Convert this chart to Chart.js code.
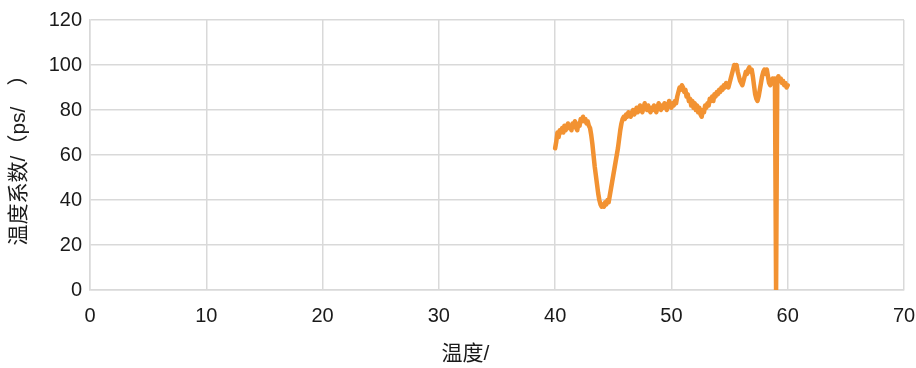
<!DOCTYPE html>
<html>
<head>
<meta charset="utf-8">
<script src="https://cdn.jsdelivr.net/npm/chart.js@4/dist/chart.umd.min.js"></script>
<style>
  html, body { margin: 0; padding: 0; background: #ffffff; }
  #wrap { width: 916px; height: 368px; }
</style>
</head>
<body>
<div id="wrap"><canvas id="c" width="916" height="368"></canvas></div>
<script>
// Temperature readings (°C), sampled every 0.1 from 40.0 to 60.0
const temperatures = [];
for (let i = 0; i <= 200; i++) temperatures.push(+(40 + i * 0.1).toFixed(1));

// Temperature coefficient (ps/°C) at each reading
const coefficients = [
  63, 66, 70, 68, 71, 70, 72, 70, 73, 71,   // 40.0 - 40.9
  72, 74, 72, 73, 71, 74, 73, 75, 72, 71,   // 41.0 - 41.9
  74, 73, 76, 75, 77, 75, 76, 74, 75, 73,   // 42.0 - 42.9
  72, 69, 65, 60, 55, 51, 47, 43, 40, 38,   // 43.0 - 43.9
  37, 38, 37, 39, 38, 40, 39, 42, 45, 48,   // 44.0 - 44.9
  51, 54, 57, 60, 63, 67, 71, 74, 76, 77,   // 45.0 - 45.9
  76, 78, 77, 79, 78, 77, 79, 80, 78, 79,   // 46.0 - 46.9
  81, 79, 80, 82, 80, 79, 81, 83, 81, 80,   // 47.0 - 47.9
  82, 80, 79, 81, 80, 82, 81, 79, 81, 83,   // 48.0 - 48.9
  82, 80, 82, 81, 83, 82, 80, 82, 84, 82,   // 49.0 - 49.9
  81, 83, 82, 84, 83, 86, 88, 90, 89, 91,   // 50.0 - 50.9
  90, 88, 89, 86, 87, 84, 85, 82, 84, 81,   // 51.0 - 51.9
  83, 80, 82, 79, 81, 78, 77, 80, 79, 82,   // 52.0 - 52.9
  81, 83, 82, 85, 84, 86, 84, 87, 86, 88,   // 53.0 - 53.9
  87, 89, 88, 90, 89, 91, 90, 92, 91, 90,   // 54.0 - 54.9
  92, 94, 96, 98, 100, 99, 100, 97, 95, 93, // 55.0 - 55.9
  92, 91, 93, 95, 97, 96, 98, 99, 97, 98,   // 56.0 - 56.9
  95, 91, 87, 85, 84, 86, 89, 92, 95, 97,   // 57.0 - 57.9
  98, 96, 98, 95, 92, 91, 92, 94, 93, 94,   // 58.0 - 58.9
  0, 94, 95, 93, 94, 92, 93, 91, 92, 90,    // 59.0 - 59.9
  91                                        // 60.0
];

const xTicks = [0, 10, 20, 30, 40, 50, 60, 70];
const yTicks = [0, 20, 40, 60, 80, 100, 120];

const xTitle = '温度/\u3000\u3000\u3000';
const yTitle = '温度系数/（ps/\u3000）';

const points = temperatures.map((t, i) => ({ x: t, y: coefficients[i] }));

const fontFamily = 'Arial, "Liberation Sans", "Noto Sans CJK SC", sans-serif';
const gridColor = '#d9d9d9';
const textColor = '#1a1a1a';

new Chart(document.getElementById('c'), {
  type: 'line',
  data: {
    datasets: [{
      data: points,
      borderColor: '#f29232',
      borderWidth: 4.5,
      borderJoinStyle: 'round',
      borderCapStyle: 'round',
      pointRadius: 0,
      tension: 0,
      fill: false
    }]
  },
  options: {
    responsive: false,
    animation: false,
    layout: { padding: { top: 20, right: 0, left: 0, bottom: 0 } },
    plugins: { legend: { display: false }, tooltip: { enabled: false } },
    scales: {
      x: {
        type: 'linear',
        min: 0, max: 70,
        afterBuildTicks: s => { s.ticks = xTicks.map(v => ({ value: v })); },
        afterFit: s => { s.height = 78; s.paddingLeft = 0; s.paddingRight = 12; },
        grid: { color: gridColor, lineWidth: 1.5, drawTicks: false },
        border: { color: gridColor, width: 1.5 },
        ticks: { color: textColor, padding: 14, maxRotation: 0, font: { family: fontFamily, size: 20 } },
        title: {
          display: true, text: xTitle, color: textColor,
          padding: { top: 0, bottom: 1 },
          font: { family: fontFamily, size: 21 }
        }
      },
      y: {
        min: 0, max: 120,
        afterBuildTicks: s => { s.ticks = yTicks.map(v => ({ value: v })); },
        afterFit: s => { s.width = 90; },
        grid: { color: gridColor, lineWidth: 1.5, drawTicks: false },
        border: { color: gridColor, width: 1.5 },
        ticks: { color: textColor, padding: 8, font: { family: fontFamily, size: 20 } },
        title: {
          display: true, text: yTitle, color: textColor,
          padding: { top: 7, bottom: 0 },
          font: { family: fontFamily, size: 21 }
        }
      }
    }
  }
});
</script>
</body>
</html>
